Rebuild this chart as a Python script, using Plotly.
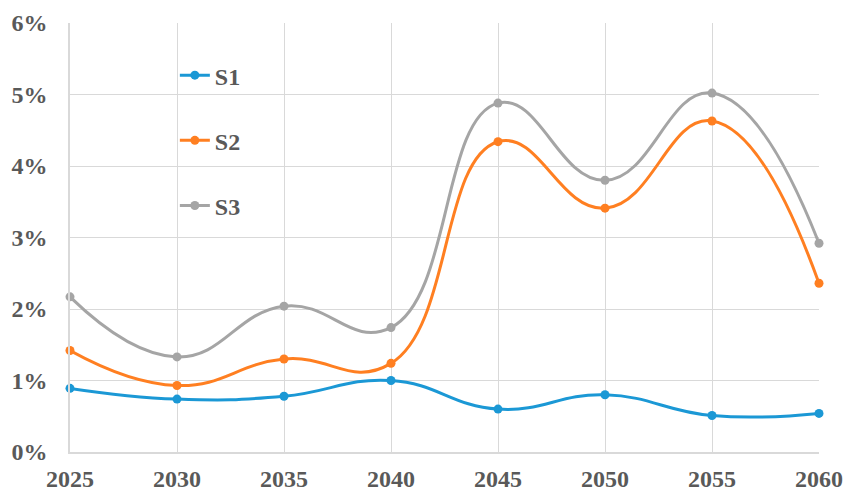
import plotly.graph_objects as go

years = [2025, 2030, 2035, 2040, 2045, 2050, 2055, 2060]
s1 = [0.89, 0.74, 0.78, 1.00, 0.60, 0.80, 0.51, 0.54]
s2 = [1.42, 0.93, 1.30, 1.24, 4.34, 3.41, 4.63, 2.36]
s3 = [2.17, 1.33, 2.04, 1.74, 4.88, 3.80, 5.02, 2.92]
y_ticks = [0, 1, 2, 3, 4, 5, 6]
y_tick_labels = [f"{v}%" for v in y_ticks]

series = [("S1", s1, "#1B98D5"), ("S2", s2, "#FF7F21"), ("S3", s3, "#A5A5A5")]

font_family = "Times New Roman, Liberation Serif, serif"
text_color = "#595959"
grid_color = "#D9D9D9"
label_font = dict(family=font_family, size=24, color=text_color, weight="bold")

fig = go.Figure()
for name, vals, color in series:
    fig.add_trace(go.Scatter(
        x=years, y=vals, name=name, mode="lines+markers",
        line=dict(color=color, width=3, shape="spline", smoothing=1.3),
        marker=dict(color=color, size=9),
        legendgroup=name, cliponaxis=False,
    ))

fig.update_layout(
    width=845, height=491,
    margin=dict(l=70, r=26, t=23, b=39),
    paper_bgcolor="white", plot_bgcolor="white",
    font=dict(family=font_family, size=24, color=text_color),
    showlegend=True,
    legend=dict(
        x=0.14, y=0.93, xanchor="left", yanchor="top",
        bgcolor="rgba(0,0,0,0)",
        font=label_font,
        tracegroupgap=31, itemwidth=30,
    ),
)
fig.update_xaxes(
    range=[2025, 2060], tickvals=years, ticktext=[str(y) for y in years],
    showgrid=True, gridcolor=grid_color, gridwidth=1,
    showline=True, linecolor=grid_color, linewidth=1.5,
    zeroline=False, ticks="outside", ticklen=4, tickcolor="rgba(0,0,0,0)",
    automargin=False, tickfont=label_font,
)
fig.update_yaxes(
    range=[0, 6], tickvals=y_ticks, ticktext=y_tick_labels,
    showgrid=True, gridcolor=grid_color, gridwidth=1,
    showline=True, linecolor=grid_color, linewidth=1.5,
    zeroline=False, ticks="outside", ticklen=16, tickcolor="rgba(0,0,0,0)",
    automargin=False, tickfont=label_font,
)

fig.write_html("out.html")
